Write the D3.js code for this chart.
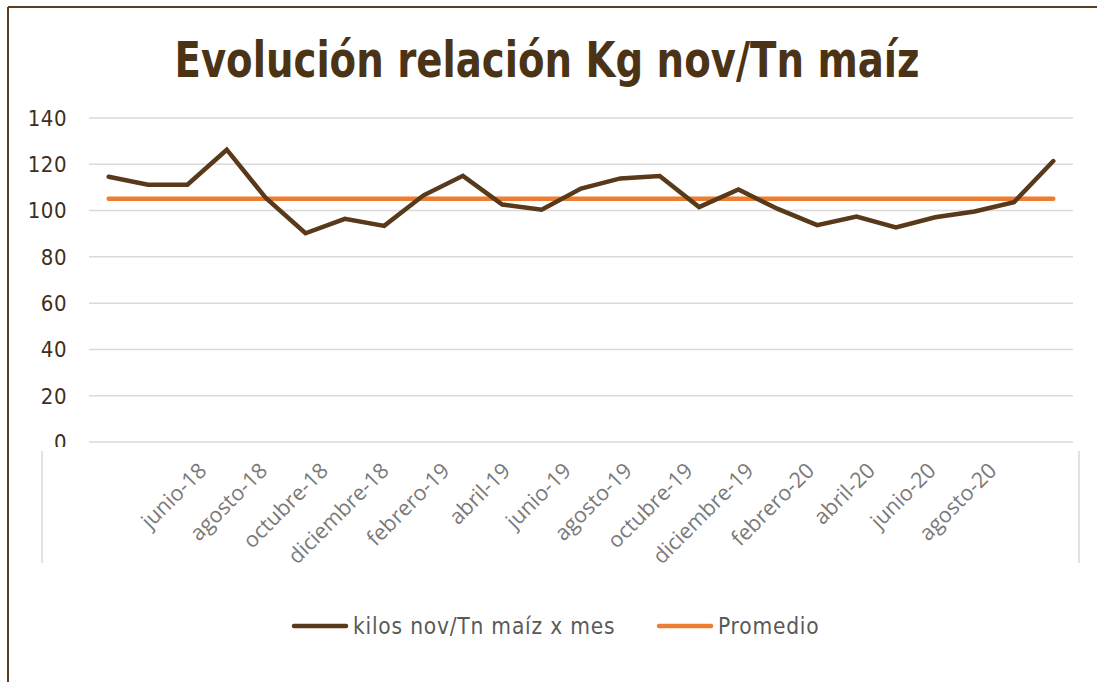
<!DOCTYPE html>
<html>
<head>
<meta charset="utf-8">
<script src="https://cdn.jsdelivr.net/npm/d3@7"></script>
<style>
  body { margin: 0; background: #fff; }
  svg { display: block; }
</style>
</head>
<body>
<svg id="chart"></svg>
<script>
// monthly data points (25 months)
const months = [
  'jun-18', 'jul-18', 'ago-18', 'sep-18', 'oct-18', 'nov-18', 'dic-18',
  'ene-19', 'feb-19', 'mar-19', 'abr-19', 'may-19', 'jun-19', 'jul-19',
  'ago-19', 'sep-19', 'oct-19', 'nov-19', 'dic-19', 'ene-20', 'feb-20',
  'mar-20', 'abr-20', 'may-20', 'jun-20'
];
const kilos = [
  114.6, 111.2, 111.2, 126.3, 105.3, 90.2, 96.4, 93.4, 106.6, 115.0,
  102.6, 100.4, 109.5, 113.9, 114.9, 101.5, 109.1, 100.7, 93.7, 97.4,
  92.7, 97.1, 99.6, 103.6, 121.4
];
const promedio = 105.1;
const yTicks = [0, 20, 40, 60, 80, 100, 120, 140];
const xLabels = [
  'junio-18', 'agosto-18', 'octubre-18', 'diciembre-18', 'febrero-19', 'abril-19',
  'junio-19', 'agosto-19', 'octubre-19', 'diciembre-19', 'febrero-20', 'abril-20',
  'junio-20', 'agosto-20'
];
const seriesNames = ['kilos nov/Tn maíz x mes', 'Promedio'];

const W = 1097, H = 682;
const brown = '#58391a', orange = '#ed7d31';
const condensed = '"Liberation Sans Narrow", "DejaVu Sans Condensed", "DejaVu Sans", sans-serif';

const svg = d3.select('#chart').attr('width', W).attr('height', H);

// outer frame (only top + left edges visible)
svg.append('line').attr('x1', 8).attr('y1', 7).attr('x2', W).attr('y2', 7)
  .attr('stroke', '#5a4126').attr('stroke-width', 2);
svg.append('line').attr('x1', 8).attr('y1', 7).attr('x2', 8).attr('y2', H)
  .attr('stroke', '#5a4126').attr('stroke-width', 2);

// title
svg.append('text')
  .attr('x', 547).attr('y', 77)
  .attr('text-anchor', 'middle')
  .attr('font-family', condensed).attr('font-weight', 'bold')
  .attr('font-size', 50).attr('fill', '#4b3316')
  .attr('textLength', 745).attr('lengthAdjust', 'spacingAndGlyphs')
  .text('Evolución relación Kg nov/Tn maíz');

const x = d3.scaleBand().domain(months).range([89, 1073]);
const y = d3.scaleLinear().domain([0, 140]).range([442, 118]);
const cx = (m) => x(m) + x.bandwidth() / 2;

// gridlines
svg.append('g').selectAll('line').data(yTicks).join('line')
  .attr('x1', 89).attr('x2', 1073)
  .attr('y1', (d) => y(d)).attr('y2', (d) => y(d))
  .attr('stroke', '#d9d9d9').attr('stroke-width', 1.5);

// y labels (bottom one gets cut by the pasted axis strip)
svg.append('clipPath').attr('id', 'yclip')
  .append('rect').attr('x', 0).attr('y', 0).attr('width', 90).attr('height', 447);
svg.append('g').attr('clip-path', 'url(#yclip)')
  .selectAll('text').data(yTicks).join('text')
  .attr('x', 67).attr('y', (d) => y(d))
  .attr('dy', '0.36em')
  .attr('text-anchor', 'end')
  .attr('font-family', condensed).attr('font-size', 22)
  .attr('letter-spacing', 0.5)
  .attr('fill', '#3f2e1c')
  .text((d) => d);

// promedio line
svg.append('line')
  .attr('x1', cx(months[0])).attr('x2', cx(months[months.length - 1]))
  .attr('y1', y(promedio)).attr('y2', y(promedio))
  .attr('stroke', orange).attr('stroke-width', 4.5).attr('stroke-linecap', 'round');

// kilos line
const line = d3.line()
  .x((d, i) => cx(months[i]))
  .y((d) => y(d));
svg.append('path').datum(kilos)
  .attr('d', line)
  .attr('fill', 'none').attr('stroke', brown).attr('stroke-width', 4.5)
  .attr('stroke-linejoin', 'miter').attr('stroke-linecap', 'round');

// pasted category strip
svg.append('rect').attr('x', 11).attr('y', 447).attr('width', 1080).attr('height', 120).attr('fill', '#fff');
[42, 1079].forEach((lx) => {
  svg.append('line').attr('x1', lx).attr('x2', lx).attr('y1', 451).attr('y2', 563)
    .attr('stroke', '#d9d9d9').attr('stroke-width', 1.5);
});

const xl = d3.scalePoint().domain(xLabels).range([197, 987]);
svg.append('g').selectAll('text').data(xLabels).join('text')
  .attr('transform', (d) => `translate(${xl(d)},${461}) rotate(-45)`)
  .attr('text-anchor', 'end')
  .attr('dy', '0.72em')
  .attr('font-family', '"Open Sans", "Liberation Sans", sans-serif')
  .attr('font-size', 21.5).attr('fill', '#7a7a7a')
  .text((d) => d);

// legend
const legend = svg.append('g');
const legendX = [294, 659];
const legendC = [brown, orange];
seriesNames.forEach((name, i) => {
  legend.append('line')
    .attr('x1', legendX[i]).attr('x2', legendX[i] + 52)
    .attr('y1', 626).attr('y2', 626)
    .attr('stroke', legendC[i]).attr('stroke-width', 4.5).attr('stroke-linecap', 'round');
  legend.append('text')
    .attr('x', legendX[i] + 59).attr('y', 626).attr('dy', '0.36em')
    .attr('font-family', condensed).attr('font-size', 22.5)
    .attr('letter-spacing', 0.8)
    .attr('fill', '#595959')
    .text(name);
});
</script>
</body>
</html>
